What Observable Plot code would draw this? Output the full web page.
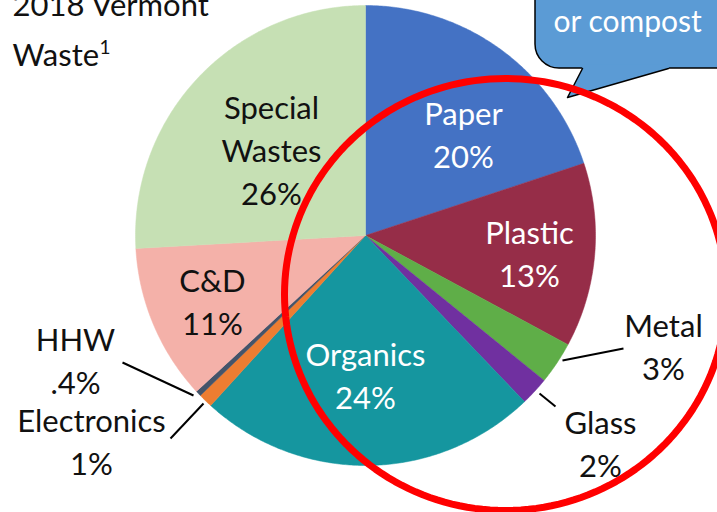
<!DOCTYPE html>
<html>
<head>
<meta charset="utf-8">
<script src="https://cdn.jsdelivr.net/npm/d3@7"></script>
<script src="https://cdn.jsdelivr.net/npm/@observablehq/plot@0.6"></script>
<style>
  html, body { margin: 0; padding: 0; background: #fff; overflow: hidden; }
  #wrap { width: 717px; height: 512px; overflow: hidden; position: relative; }
  #wrap svg { overflow: hidden; }
</style>
</head>
<body>
<div id="wrap"></div>
<script>
// ---- data ----
const categories = ["Paper", "Plastic", "Metal", "Glass", "Organics", "Electronics", "HHW", "C&D", "Special Wastes"];
const shares = [20, 13, 3, 2, 24, 1, 0.4, 11, 26];
const shareLabels = ["20%", "13%", "3%", "2%", "24%", "1%", ".4%", "11%", "26%"];
const displayNames = ["Paper", "Plastic", "Metal", "Glass", "Organics", "Electronics", "HHW", "C&D", "Special\nWastes"];
const sliceColors = ["#4472C4", "#962D48", "#5FAE48", "#7030A0", "#15969F", "#ED7D31", "#44546A", "#F4B1A9", "#C6E0B4"];
const labelColors = ["#fff", "#fff", "#111", "#111", "#fff", "#111", "#111", "#111", "#111"];
const titleLines = ["2018 Vermont", "Waste"];
const titleNote = "1";
const bubbleText = "or compost";

// ---- layout ----
const W = 717, H = 512;
const center = {x: 365, y: 235}, radius = 230;
const labelFont = "Lato, 'Open Sans', sans-serif";
const labelSize = 31;
const labelAt = {
  "Paper": [463, 132.5], "Plastic": [529, 251], "Metal": [663, 344], "Glass": [600, 441.5],
  "Organics": [365, 373], "Electronics": [91, 439.5], "HHW": [75, 358], "C&D": [212, 299],
  "Special Wastes": [271, 148]
};
const leaders = {
  "HHW": [[122, 362], [193, 395]],
  "Electronics": [[203, 403], [170, 438]],
  "Metal": [[562, 360], [623, 348]],
  "Glass": [[539, 393], [555, 406]]
};

// pie geometry via d3.pie
const pie = d3.pie().sort(null).value(d => d.share)(categories.map((c, i) => ({cat: c, share: shares[i], i})));
function slicePolygon(a0, a1) {
  const pts = [{x: center.x, y: center.y}];
  const n = Math.max(2, Math.ceil((a1 - a0) / (Math.PI / 360)));
  for (let k = 0; k <= n; k++) {
    const a = a0 + (a1 - a0) * k / n;
    pts.push({x: center.x + radius * Math.sin(a), y: center.y - radius * Math.cos(a)});
  }
  pts.push({x: center.x, y: center.y});
  return pts;
}
const sliceMarks = pie.map(p => Plot.line(slicePolygon(p.startAngle, p.endAngle), {
  x: "x", y: "y", fill: sliceColors[p.data.i], stroke: sliceColors[p.data.i], strokeWidth: 0.5, curve: "linear-closed"
}));

const labelData = categories.map((c, i) => ({
  x: labelAt[c][0], y: labelAt[c][1], text: displayNames[i] + "\n" + shareLabels[i], color: labelColors[i]
}));
const leaderData = Object.entries(leaders).map(([k, [a, b]]) => ({x1: a[0], y1: a[1], x2: b[0], y2: b[1]}));

// callout bubble
const bubble = {x1: 535, x2: 780, y1: -40, y2: 68};
const tailFill = [{x: 580, y: 64}, {x: 582, y: 68}, {x: 567, y: 97}, {x: 668, y: 68}, {x: 670, y: 64}];
const tailEdge = [{x: 582, y: 68}, {x: 567, y: 97}, {x: 668, y: 68}];

// red highlight ellipse (annotation outline)
const ring = {cx: 505, cy: 294, rx: 221, ry: 216};
const ringPts = d3.range(0, 361, 2).map(deg => {
  const a = deg * Math.PI / 180;
  return {x: ring.cx + ring.rx * Math.cos(a), y: ring.cy + ring.ry * Math.sin(a)};
});

const chart = Plot.plot({
  width: W, height: H, margin: 0,
  x: {domain: [0, W], range: [0, W], axis: null},
  y: {domain: [0, H], range: [0, H], axis: null},
  style: {background: "#fff"},
  marks: [
    ...sliceMarks,
    Plot.text(labelData, {
      x: "x", y: "y", text: "text", fill: "color", fontSize: labelSize,
      fontFamily: labelFont, lineHeight: 1.38, textAnchor: "middle", lineAnchor: "middle"
    }),
    Plot.link(leaderData, {x1: "x1", y1: "y1", x2: "x2", y2: "y2", stroke: "#000", strokeWidth: 2}),
    // title
    Plot.text([titleLines[0]], {x: 12, y: 15, text: d => d, fontSize: 31, fontFamily: labelFont, textAnchor: "start", lineAnchor: "bottom", fill: "#111"}),
    Plot.text([titleLines[1]], {x: 12, y: 65, text: d => d, fontSize: 31, fontFamily: labelFont, textAnchor: "start", lineAnchor: "bottom", fill: "#111"}),
    Plot.text([titleNote], {x: 99, y: 40, text: d => d, fontSize: 19, fontFamily: labelFont, textAnchor: "start", lineAnchor: "top", fill: "#111"}),
    // callout bubble
    Plot.rect([bubble], {x1: "x1", x2: "x2", y1: "y1", y2: "y2", fill: "#5B9BD5", stroke: "#000", strokeWidth: 1.5, rx: 24}),
    Plot.line(tailFill, {x: "x", y: "y", fill: "#5B9BD5", stroke: "none", curve: "linear-closed"}),
    Plot.line(tailEdge, {x: "x", y: "y", stroke: "#000", strokeWidth: 1.5}),
    Plot.text([bubbleText], {x: 553, y: 22, text: d => d, fontSize: 30, fontFamily: labelFont, textAnchor: "start", lineAnchor: "middle", fill: "#fff"}),
    // red highlight ring
    Plot.line(ringPts, {x: "x", y: "y", stroke: "#FF0000", strokeWidth: 7, fill: "none", curve: "linear-closed"})
  ]
});
document.getElementById("wrap").appendChild(chart);
</script>
</body>
</html>
